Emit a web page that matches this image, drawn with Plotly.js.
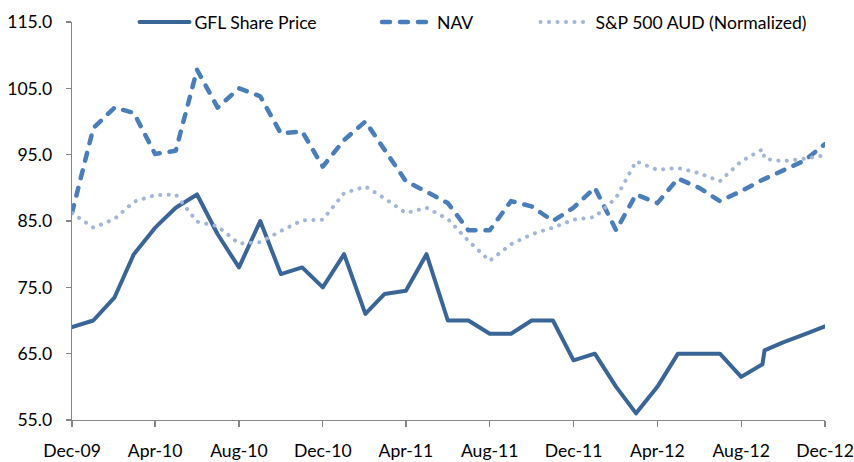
<!DOCTYPE html>
<html>
<head>
<meta charset="utf-8">
<script src="https://cdn.plot.ly/plotly-3.0.1.min.js"></script>
<style>
html, body { margin: 0; padding: 0; background: #ffffff; }
#chart { width: 854px; height: 462px; }
.scatterlayer .js-line, .legendlines path { stroke-linecap: round; stroke-linejoin: round; }
</style>
</head>
<body>
<div id="chart"></div>
<script>
// Dates (month starts, plus one extra early-September 2012 observation)
const dates = [
  "2009-12-01","2010-01-01","2010-02-01","2010-03-01","2010-04-01","2010-05-01",
  "2010-06-01","2010-07-01","2010-08-01","2010-09-01","2010-10-01","2010-11-01",
  "2010-12-01","2011-01-01","2011-02-01","2011-03-01","2011-04-01","2011-05-01",
  "2011-06-01","2011-07-01","2011-08-01","2011-09-01","2011-10-01","2011-11-01",
  "2011-12-01","2012-01-01","2012-02-01","2012-03-01","2012-04-01","2012-05-01",
  "2012-06-01","2012-07-01","2012-08-01","2012-09-01","2012-09-04","2012-10-01",
  "2012-11-01","2012-12-01"
];

const gflSharePrice = [
  69, 70, 73.5, 80, 84, 87,
  89, 83, 78, 85, 77, 78,
  75, 80, 71, 74, 74.5, 80,
  70, 70, 68, 68, 70, 70,
  64, 65, 60, 56, 60, 65,
  65, 65, 61.5, 63.4, 65.5, 66.7,
  67.9, 69.1
];

const nav = [
  86.2, 99, 102.1, 101.3, 95.1, 95.6,
  107.8, 102.1, 105, 103.8, 98.2, 98.5,
  93.2, 97.2, 100, 95.7, 91, 89.4,
  87.7, 83.6, 83.6, 88, 87.2, 85,
  87, 90, 83.6, 89, 87.7, 91.4,
  90, 88, 89.5, 91.2, null, 92.6,
  94.1, 96.6
];

const sp500Aud = [
  86.2, 84, 85.3, 87.9, 88.9, 89,
  84.9, 84.2, 81.6, 81.8, 83.5, 85.1,
  85.2, 89.2, 90.2, 88.4, 86.2, 87,
  85.3, 82, 79, 81.5, 83, 84,
  85.2, 85.6, 88.5, 94, 92.7, 93,
  92.2, 91, 94, 95.8, 94.4, 94,
  94.4, 94.9
];

const seriesNames = ["GFL Share Price", "NAV", "S&P 500 AUD (Normalized)"];

const fontFam = "Lato, 'Liberation Sans', sans-serif";
const fontSize = 17.6;
const axisGray = "#868686";

const traces = [
  {
    x: dates, y: gflSharePrice, name: seriesNames[0], type: "scatter", mode: "lines",
    legend: "legend",
    line: { color: "#3A6597", width: 4 }
  },
  {
    x: dates, y: nav, name: seriesNames[1], type: "scatter", mode: "lines",
    legend: "legend2", connectgaps: true,
    line: { color: "#4A7EBB", width: 4.5, dash: "8px,10px" }
  },
  {
    x: dates, y: sp500Aud, name: seriesNames[2], type: "scatter", mode: "lines",
    legend: "legend3",
    line: { color: "#A3B6D7", width: 4, dash: "0.1px,8.4px" }
  }
];

function legendAt(xPaper) {
  return {
    orientation: "h", x: xPaper, xanchor: "left", y: 1.0, yanchor: "middle",
    font: { family: fontFam, size: fontSize, color: "#000000" },
    itemwidth: 50,
    bgcolor: "rgba(0,0,0,0)", borderwidth: 0
  };
}

const layout = {
  width: 854, height: 462,
  margin: { l: 72, r: 29, t: 22, b: 42, pad: 0, autoexpand: false },
  paper_bgcolor: "#ffffff", plot_bgcolor: "#ffffff",
  font: { family: fontFam, size: fontSize, color: "#000000" },
  showlegend: true,
  legend: legendAt(0.083),
  legend2: legendAt(0.405),
  legend3: legendAt(0.6155),
  xaxis: {
    type: "date",
    range: ["2009-12-01", "2012-12-01"],
    tick0: "2009-12-01", dtick: "M4", tickformat: "%b-%y",
    showgrid: false, zeroline: false,
    showline: true, linecolor: axisGray, linewidth: 1.3,
    ticks: "outside", ticklen: 6, tickcolor: axisGray, tickwidth: 1.3,
    ticklabelstandoff: 9,
    tickfont: { family: fontFam, size: fontSize, color: "#000000" },
    automargin: false, fixedrange: true
  },
  yaxis: {
    range: [55, 115], tick0: 55, dtick: 10, tickformat: ".1f",
    showgrid: false, zeroline: false,
    showline: true, linecolor: axisGray, linewidth: 1.3,
    ticks: "outside", ticklen: 5, tickcolor: axisGray, tickwidth: 1.3,
    ticklabelstandoff: 10,
    tickfont: { family: fontFam, size: fontSize, color: "#000000" },
    automargin: false, fixedrange: true
  }
};

Plotly.newPlot("chart", traces, layout, { displayModeBar: false, staticPlot: true });
</script>
</body>
</html>
